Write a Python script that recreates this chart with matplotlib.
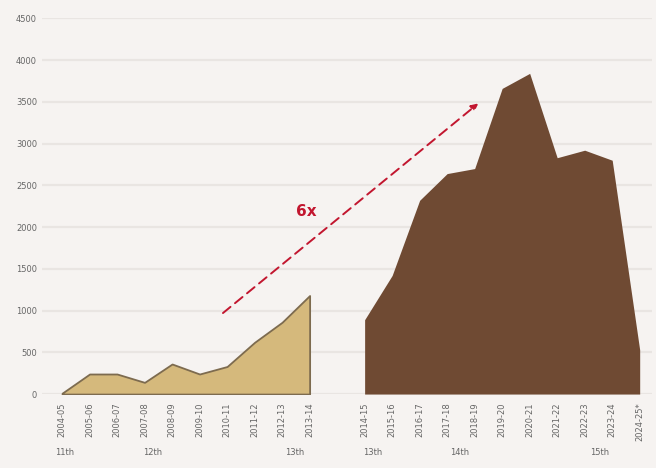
import numpy as np
import matplotlib.pyplot as plt

# -----------------------------
# DATA
# -----------------------------
years_a = ["2004-05", "2005-06", "2006-07", "2007-08", "2008-09",
           "2009-10", "2010-11", "2011-12", "2012-13", "2013-14"]
values_a = [10, 240, 240, 140, 360, 240, 330, 620, 860, 1180]

years_b = ["2014-15", "2015-16", "2016-17", "2017-18", "2018-19", "2019-20",
           "2020-21", "2021-22", "2022-23", "2023-24", "2024-25*"]
values_b = [890, 1420, 2320, 2640, 2700, 3660, 3840, 2830, 2920, 2800, 530]

# finance commission labels under each period (label, position on x)
fc_labels = [("11th", -0.25), ("12th", 2.95), ("13th", 8.1),
             ("13th", 10.95), ("14th", 14.1), ("15th", 19.2)]

# -----------------------------
# STYLE
# -----------------------------
BG = "#f6f3f1"
GRID = "#e9e5e2"
TAN = "#d5b97c"
TAN_EDGE = "#7d6b4f"
BROWN = "#6f4a33"
RED = "#c2162f"
TEXT = "#666666"

x_a = np.arange(len(years_a))
x_b = np.arange(len(years_b)) + len(years_a) + 1

fig = plt.figure(figsize=(6.56, 4.68), dpi=100, facecolor=BG)
ax = fig.add_axes([0.064, 0.158, 0.93, 0.803])
ax.set_facecolor(BG)

ax.fill_between(x_a, values_a, 0, color=TAN, edgecolor=TAN_EDGE, linewidth=1.3, zorder=3)
ax.fill_between(x_b, values_b, 0, color=BROWN, linewidth=0, zorder=3)

ax.set_ylim(0, 4500)
ax.set_xlim(-0.73, 21.45)
ax.set_yticks(np.arange(0, 4501, 500))
ax.yaxis.grid(True, color=GRID, linewidth=1.6, zorder=0)
ax.set_axisbelow(True)

ax.set_xticks(np.concatenate([x_a, x_b]))
ax.set_xticklabels(years_a + years_b, rotation=90, fontsize=6, color=TEXT)
ax.tick_params(axis="both", length=0, labelsize=6, colors=TEXT)
ax.tick_params(axis="x", pad=6)
for s in ax.spines.values():
    s.set_visible(False)

# period labels below the year ticks
for label, xpos in fc_labels:
    ax.text(xpos, -0.155, label, transform=ax.get_xaxis_transform(),
            fontsize=6, color=TEXT, ha="left", va="center")

# growth arrow
ax.annotate("", xy=(15.13, 3480), xytext=(5.85, 970),
            arrowprops=dict(arrowstyle="-|>", color=RED, lw=1.4,
                            linestyle=(0, (5, 3)), mutation_scale=10,
                            shrinkA=0, shrinkB=0),
            zorder=5)
ax.text(8.87, 2190, "6x", color=RED, fontsize=11, fontweight="bold",
        ha="center", va="center", zorder=5)

fig.savefig("out.png", dpi=100, facecolor=BG)
